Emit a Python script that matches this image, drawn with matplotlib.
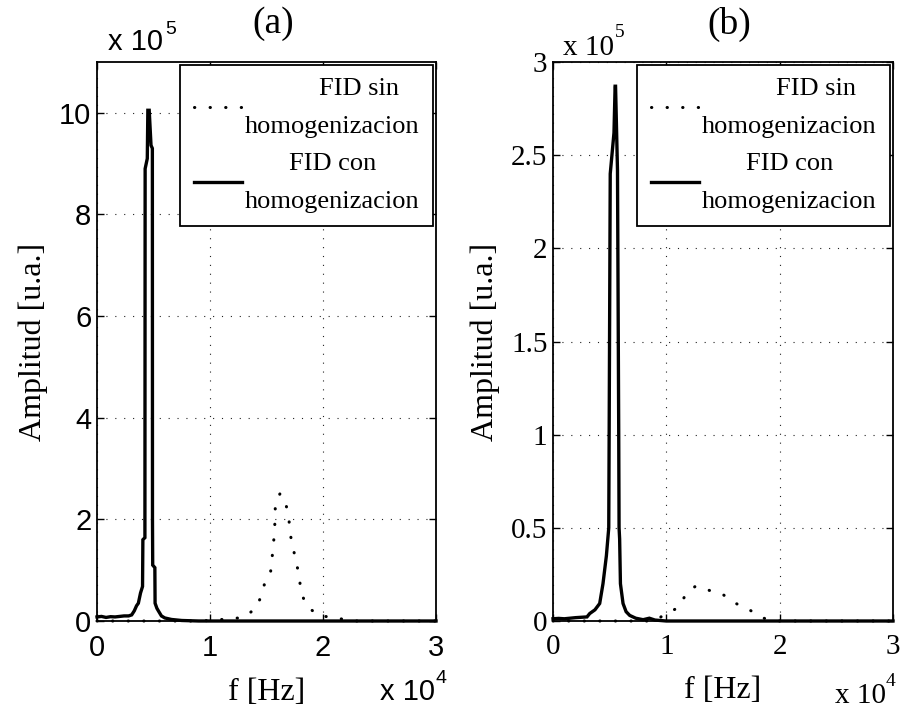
import matplotlib
matplotlib.use("Agg")
import matplotlib.pyplot as plt
from matplotlib.ticker import FixedLocator, FuncFormatter

# ---- spectrum data: frequency [Hz], amplitude [u.a.] ----
# panel (a)
freq_a_sin = [0, 9000, 10000, 11600, 13000, 14160, 14600, 14960, 15370, 15520,
              15660, 15750, 15780, 16200, 16700, 17000, 17020, 17300, 17600,
              17900, 18050, 18600, 19700, 21100, 22000, 23000, 30000]
amp_a_sin = [0, 0, 1000, 4000, 7000, 27000, 55000, 84000, 98000, 130000,
             163000, 196000, 228000, 251000, 232000, 200000, 180000, 149000,
             119000, 88000, 56000, 28000, 10000, 7000, 2000, 0, 0]

freq_a_con = [0, 400, 800, 1200, 1600, 2000, 2400, 2800, 3070, 3300, 3500,
              3660, 3850, 4030, 4060, 4240, 4260, 4450, 4500, 4620, 4780,
              4900, 4910, 4930, 5120, 5140, 5300, 5430, 5700, 6000, 6600,
              7500, 9000, 30000]
amp_a_con = [8000, 9000, 7000, 8500, 8000, 9000, 10000, 10000, 12000, 20000,
             30000, 35000, 55000, 68000, 160000, 164000, 890000, 910000,
             1005000, 1005000, 936000, 930000, 200000, 110000, 105000, 35000,
             25000, 20000, 10000, 6000, 3000, 1000, 0, 0]

# panel (b)
freq_b_sin = [0, 9000, 9860, 11070, 11770, 12600, 13680, 14860, 16040, 17270,
              18540, 19500, 30000]
amp_b_sin = [0, 0, 3600, 7200, 14800, 18800, 16600, 14800, 9700, 6200, 1600,
             0, 0]

freq_b_con = [0, 500, 1000, 1500, 2000, 2500, 3000, 3240, 3700, 4120, 4410,
              4710, 4920, 5050, 5380, 5480, 5520, 5690, 5800, 5830, 5880,
              5950, 6180, 6450, 6770, 7300, 7950, 8500, 9000, 10000, 30000]
amp_b_con = [1200, 1400, 1200, 1500, 1800, 2000, 2200, 4000, 6000, 9400,
             20000, 35000, 50000, 240000, 262000, 287000, 287000, 242000,
             100000, 50000, 44000, 20000, 9400, 5000, 3000, 1500, 700, 1500,
             500, 0, 0]

legend_labels = ["        FID sin\nhomogenizacion", "FID con\nhomogenizacion"]
x_ticks = [0, 10000, 20000, 30000]
y_ticks_a = [0, 200000, 400000, 600000, 800000, 1000000]
y_ticks_b = [0, 50000, 100000, 150000, 200000, 250000, 300000]

SERIF = "Liberation Serif"
SANS = "Liberation Sans"

fig = plt.figure(figsize=(9.09, 7.09), dpi=100)
W, H = 909.0, 709.0


def fx(px):
    return px / W


def fy(py):
    return 1 - py / H


ax_a = fig.add_axes([fx(97), fy(621), (436 - 97) / W, (621 - 62) / H])
ax_b = fig.add_axes([fx(553), fy(621), (893 - 553) / W, (621 - 62) / H])

dot_style = (0, (0.1, 5.0))
grid_style = (0, (1, 7))


def draw_panel(ax, f_sin, a_sin, f_con, a_con, ylim, yticks, yfmt, tickfont):
    ax.plot(f_sin, a_sin, color="black", lw=2.2, linestyle=dot_style,
            dash_capstyle="round", clip_on=False, label=legend_labels[0])
    ax.plot(f_con, a_con, color="black", lw=2.4, solid_joinstyle="miter",
            clip_on=False, label=legend_labels[1])
    ax.set_xlim(0, 30000)
    ax.set_ylim(*ylim)
    ax.xaxis.set_major_locator(FixedLocator(x_ticks))
    ax.yaxis.set_major_locator(FixedLocator(yticks))
    ax.xaxis.set_major_formatter(FuncFormatter(lambda v, p: "%g" % (v / 1e4)))
    ax.yaxis.set_major_formatter(FuncFormatter(yfmt))
    ax.grid(True, color="#222222", lw=0.8, linestyle=grid_style)
    ax.set_axisbelow(True)
    ax.tick_params(direction="in", length=5, width=1.0, top=True, right=True,
                   labelsize=21)
    ax.tick_params(axis="x", pad=9)
    ax.tick_params(axis="y", pad=4)
    for lab in ax.get_xticklabels() + ax.get_yticklabels():
        lab.set_fontfamily(tickfont)
    for s in ax.spines.values():
        s.set_linewidth(1.3)
    ax.set_xlabel("f [Hz]", family=SERIF, fontsize=23, labelpad=12)
    ax.set_ylabel("Amplitud [u.a.]", family=SERIF, fontsize=23, labelpad=8)
    leg = ax.legend(loc="upper right", prop={"family": SERIF, "size": 19},
                    frameon=True, fancybox=False, framealpha=1,
                    edgecolor="black", borderaxespad=0.12, borderpad=0.5,
                    handlelength=1.85, handletextpad=0.1, labelspacing=0.6)
    leg.get_frame().set_linewidth(1.3)
    for t in leg.get_texts():
        t.set_multialignment("center")
        t.set_linespacing(1.9)


draw_panel(ax_a, freq_a_sin, amp_a_sin, freq_a_con, amp_a_con, (0, 1100000),
           y_ticks_a, lambda v, p: "%g" % (v / 1e5), SANS)
draw_panel(ax_b, freq_b_sin, amp_b_sin, freq_b_con, amp_b_con, (0, 300000),
           y_ticks_b, lambda v, p: "%g" % (v / 1e5), SERIF)

# panel titles
fig.text(fx(273), fy(24), "(a)", family=SERIF, fontsize=27, ha="center", va="center")
fig.text(fx(729), fy(24), "(b)", family=SERIF, fontsize=27, ha="center", va="center")

# scale factors of the axes
fig.text(fx(108), fy(50), "x 10", family=SANS, fontsize=21, ha="left", va="baseline")
fig.text(fx(165), fy(34), "5", family=SANS, fontsize=14, ha="left", va="baseline")
fig.text(fx(563), fy(55), "x 10", family=SERIF, fontsize=21, ha="left", va="baseline")
fig.text(fx(615), fy(37), "5", family=SERIF, fontsize=14, ha="left", va="baseline")

fig.text(fx(380), fy(700), "x 10", family=SANS, fontsize=21, ha="left", va="baseline")
fig.text(fx(436), fy(683), "4", family=SANS, fontsize=14, ha="left", va="baseline")
fig.text(fx(835), fy(703), "x 10", family=SERIF, fontsize=21, ha="left", va="baseline")
fig.text(fx(886), fy(686), "4", family=SERIF, fontsize=14, ha="left", va="baseline")

fig.savefig("out.png", dpi=100)
